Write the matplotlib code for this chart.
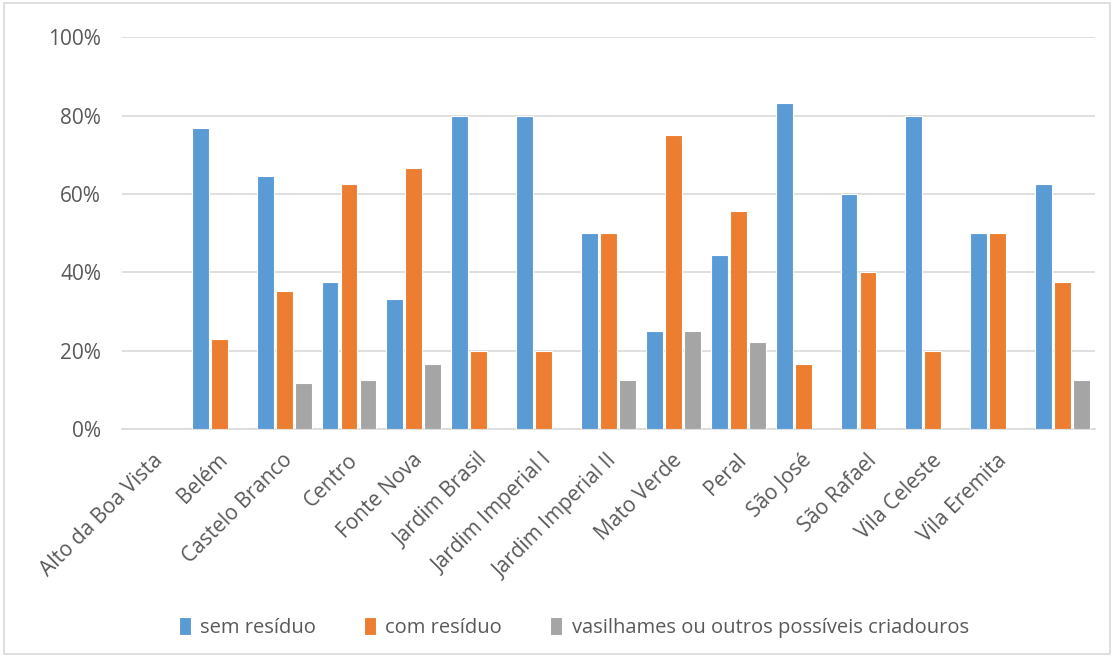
import numpy as np
import matplotlib.pyplot as plt
import matplotlib.transforms as mtransforms
from matplotlib.patches import Rectangle

plt.rcParams['font.family'] = ['Open Sans', 'DejaVu Sans']

bairros = ['Alto da Boa Vista', 'Belém', 'Castelo Branco', 'Centro', 'Fonte Nova',
           'Jardim Brasil', 'Jardim Imperial I', 'Jardim Imperial II', 'Mato Verde',
           'Peral', 'São José', 'São Rafael', 'Vila Celeste', 'Vila Eremita', '']
sem_residuo = [0, 76.9, 64.7, 37.5, 33.3, 80, 80, 50, 25, 44.4, 83.3, 60, 80, 50, 62.5]
com_residuo = [0, 23.1, 35.3, 62.5, 66.7, 20, 20, 50, 75, 55.6, 16.7, 40, 20, 50, 37.5]
vasilhames = [0, 0, 11.8, 12.5, 16.7, 0, 0, 12.5, 25, 22.2, 0, 0, 0, 0, 12.5]
series_names = ['sem resíduo', 'com resíduo', 'vasilhames ou outros possíveis criadouros']
cores = ['#5B9BD5', '#ED7D31', '#A5A5A5']

fig = plt.figure(figsize=(11.14, 6.57), dpi=100)
ax = fig.add_axes([0.1095, 0.347, 0.8735, 0.596])

# chart border
fig.patches.append(Rectangle((0.004, 0.004), 0.992, 0.992, transform=fig.transFigure,
                             fill=False, edgecolor='#D9D9D9', linewidth=1.2))

x = np.arange(len(bairros))
step = 0.293
for i, (vals, name, c) in enumerate(zip([sem_residuo, com_residuo, vasilhames], series_names, cores)):
    ax.bar(x + (i - 1) * step, vals, width=0.26, color=c, edgecolor='white',
           linewidth=0.8, label=name, zorder=3)

ax.set_xlim(-0.5, len(bairros) - 0.5)
ax.set_ylim(0, 100)
ax.set_yticks([0, 20, 40, 60, 80, 100])
ax.set_yticklabels(['0%', '20%', '40%', '60%', '80%', '100%'])
ax.grid(axis='y', color='#D9D9D9', linewidth=1.2, zorder=0)
for s in ['top', 'right', 'left']:
    ax.spines[s].set_visible(False)
ax.spines['bottom'].set_color('#D9D9D9')
ax.spines['bottom'].set_linewidth(1.2)
ax.tick_params(axis='both', length=0, labelcolor='#595959')
ax.tick_params(axis='y', pad=15, labelsize=15)

ax.set_xticks(x)
ax.set_xticklabels(bairros, rotation=45, ha='right', va='top', rotation_mode='anchor')
ax.tick_params(axis='x', pad=15, labelsize=15)
offset = mtransforms.ScaledTranslation(-2 / 100, 0, fig.dpi_scale_trans)
for lbl in ax.get_xticklabels():
    lbl.set_transform(lbl.get_transform() + offset)

fig.legend(loc='center', bbox_to_anchor=(0.515, 0.045), ncol=3, frameon=False,
           fontsize=14.5, labelcolor='#595959', handlelength=0.6, handleheight=1.0,
           handletextpad=0.45, columnspacing=2.4)

fig.savefig('out.png', dpi=100)
